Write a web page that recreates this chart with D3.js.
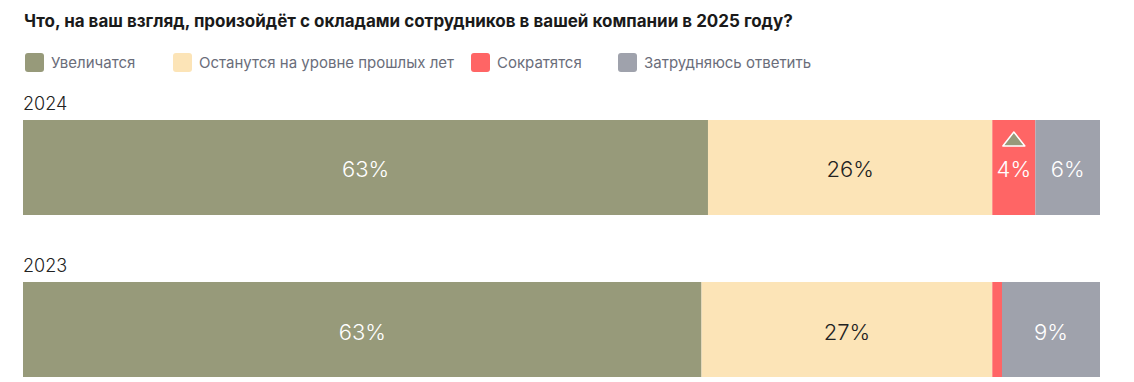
<meta charset="utf-8">
<script src="https://d3js.org/d3.v7.min.js"></script>
<style>
  body { margin: 0; background: #fff; }
  text { font-family: Inter, "Noto Sans", sans-serif; }
</style>
<div id="chart"></div>
<script>

// data
var title = "Что, на ваш взгляд, произойдёт с окладами сотрудников в вашей компании в 2025 году?";
var years = ["2024", "2023"];
var categories = ["Увеличатся", "Останутся на уровне прошлых лет", "Сократятся", "Затрудняюсь ответить"];
var values2024 = [63.6, 26.4, 4.0, 6.0];
var values2023 = [63.0, 27.0, 0.9, 9.1];
var labels2024 = ["63%", "26%", "4%", "6%"];
var labels2023 = ["63%", "27%", "", "9%"];
// "up" arrow shown above a segment
var markYears = ["2024"];
var markCategories = ["Сократятся"];

var colors = ["#979a7a", "#fce4b7", "#ff6565", "#9fa2ac"];
var labelColors = ["#fff", "#222", "#fff", "#fff"];
var legendX = [25, 173, 471, 618];

var width = 1134, height = 382;

var svg = d3.select("#chart")
  .append("svg")
    .attr("width", width)
    .attr("height", height);

// build rows for stacking
var rows = years.map(function(y, i) {
  var vals = i == 0 ? values2024 : values2023;
  var row = {year: y};
  categories.forEach(function(c, j) { row[c] = vals[j]; });
  return row;
});
var labelsByYear = {"2024": labels2024, "2023": labels2023};

var x = d3.scaleLinear()
  .domain([0, 100])
  .range([23, 1100]);

var y = d3.scaleBand()
  .domain(years)
  .range([120, 377])
  .paddingInner(0.4136);

var color = d3.scaleOrdinal()
  .domain(categories)
  .range(colors);

// title
svg.append("text")
  .attr("x", 24)
  .attr("y", 27)
  .style("font-size", "17px")
  .style("font-weight", 700)
  .style("fill", "#1a1a1a")
  .text(title);

// legend
var legend = svg.append("g")
  .selectAll("g")
  .data(categories)
  .enter()
  .append("g")
    .attr("transform", function(d, i) { return "translate(" + legendX[i] + ",53)"; });

legend.append("rect")
  .attr("width", 19)
  .attr("height", 19)
  .attr("rx", 3)
  .style("fill", function(d) { return color(d); });

legend.append("text")
  .attr("x", 26)
  .attr("y", 15)
  .style("font-size", "15px")
  .style("fill", "#6a6d7a")
  .text(function(d) { return d; });

// year labels
svg.append("g")
  .selectAll("text")
  .data(years)
  .enter()
  .append("text")
    .attr("x", 23)
    .attr("y", function(d) { return y(d) - 10; })
    .style("font-size", "18px")
    .style("font-weight", 300)
    .style("fill", "#222")
    .text(function(d) { return d; });

// stacked bars
var stacked = d3.stack().keys(categories)(rows);

var layers = svg.append("g")
  .selectAll("g")
  .data(stacked)
  .enter()
  .append("g")
    .style("fill", function(d) { return color(d.key); });

layers.selectAll("rect")
  .data(function(d) { return d; })
  .enter()
  .append("rect")
    .attr("x", function(d) { return x(d[0]); })
    .attr("y", function(d) { return y(d.data.year); })
    .attr("width", function(d) { return x(d[1]) - x(d[0]); })
    .attr("height", y.bandwidth());

// value labels
layers.each(function(layer, ci) {
  d3.select(this).selectAll("text")
    .data(layer)
    .enter()
    .append("text")
      .attr("x", function(d) { return (x(d[0]) + x(d[1])) / 2; })
      .attr("y", function(d) { return y(d.data.year) + y.bandwidth() / 2 + 10; })
      .attr("text-anchor", "middle")
      .style("font-size", "22px")
      .style("font-weight", 300)
      .style("fill", labelColors[ci])
      .text(function(d) { return labelsByYear[d.data.year][ci]; });
});

// change markers (triangles)
markYears.forEach(function(yr, i) {
  var ci = categories.indexOf(markCategories[i]);
  var seg = stacked[ci].find(function(d) { return d.data.year == yr; });
  var cx = (x(seg[0]) + x(seg[1])) / 2;
  var top = y(yr) + 12;
  svg.append("path")
    .attr("d", "M" + (cx - 11) + "," + (top + 14) + "L" + cx + "," + top + "L" + (cx + 11) + "," + (top + 14) + "Z")
    .style("fill", colors[0])
    .style("stroke", "#fff")
    .style("stroke-width", 1.5)
    .style("stroke-linejoin", "round");
});

</script>
